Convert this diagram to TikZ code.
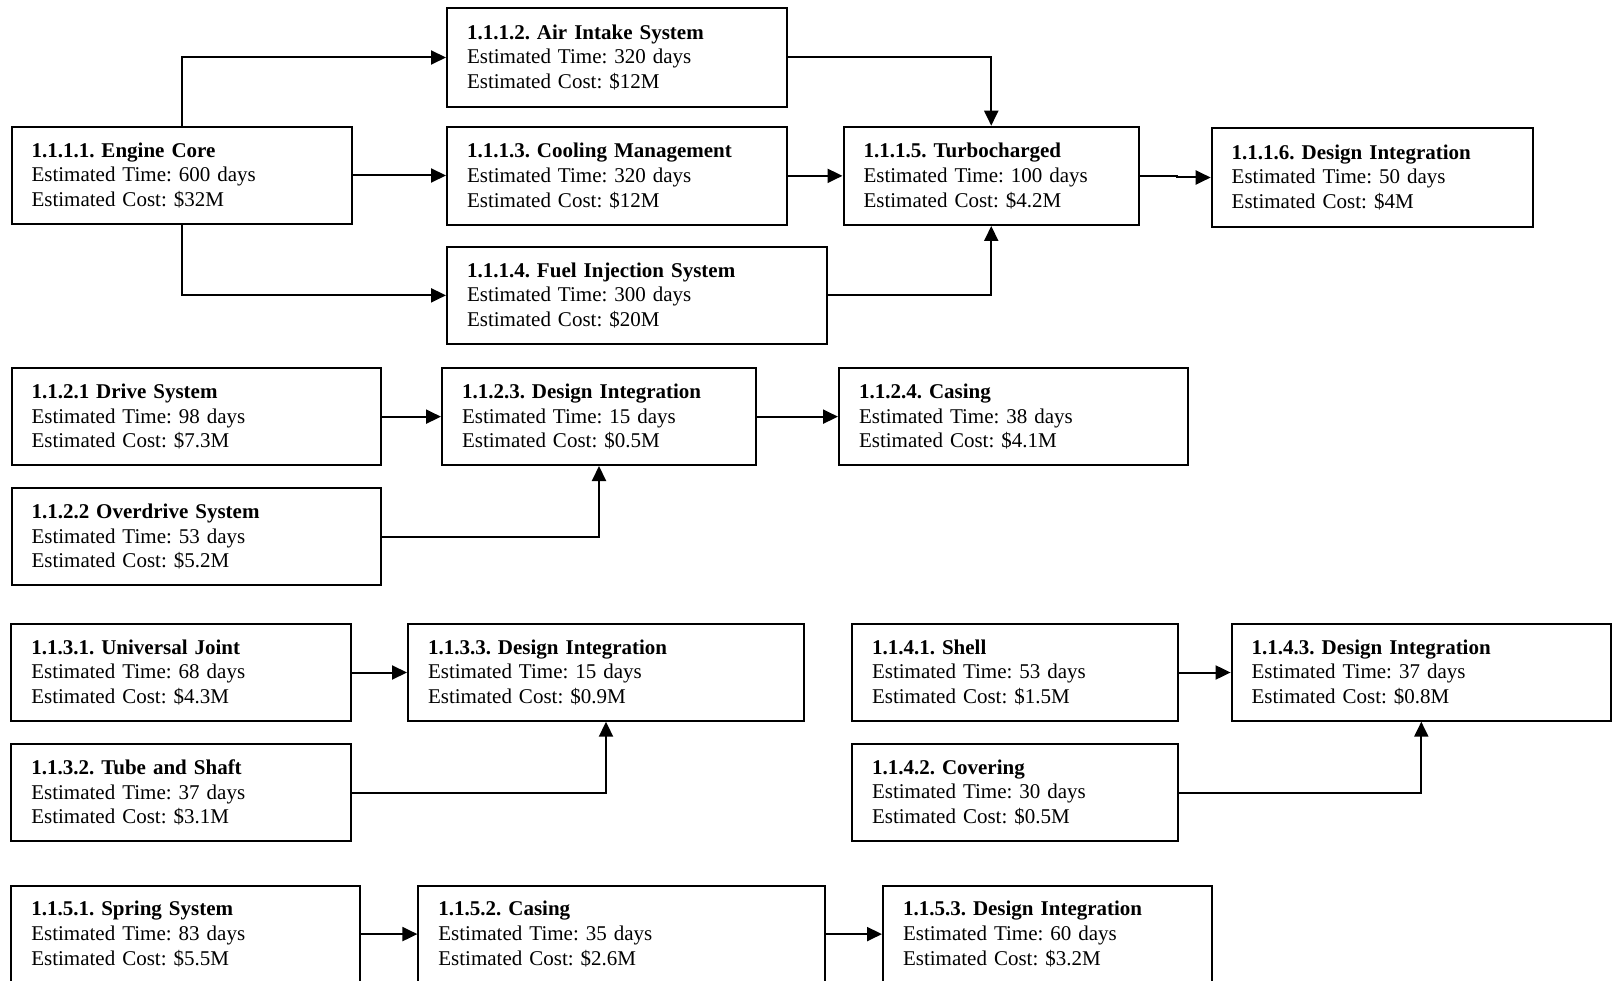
\documentclass[tikz,border=0pt]{standalone}
\usepackage{fontspec}
\setmainfont{Liberation Serif}
\usetikzlibrary{arrows.meta}

\tikzset{
  wbsbox/.style={draw, line width=2pt, rectangle, inner xsep=20pt, inner ysep=0pt,
    align=left, font={\frenchspacing\fontsize{21pt}{24.8pt}\selectfont}},
  conn/.style={line width=2pt, -{Triangle[length=15pt,width=14pt]}}
}

% A work package box given by its corners (x1,y1)-(x2,y2) in pixels, y downwards
\newcommand{\wbsnode}[8]{%
  \pgfmathsetmacro{\wbsW}{#4-#2}%
  \pgfmathsetmacro{\wbsH}{#5-#3}%
  \pgfmathsetmacro{\wbsT}{#4-#2-40}%
  \node[wbsbox, minimum width=\wbsW pt, minimum height=\wbsH pt, text width=\wbsT pt]
    (#1) at ({(#2+#4)/2},{(#3+#5)/2})
    {\textbf{#6}\\Estimated Time: #7\\Estimated Cost: \$#8};%
}

\begin{document}
\begin{tikzpicture}[x=1pt, y=-1pt]
\clip (0,0) rectangle (1612,981);
\useasboundingbox (0,0) rectangle (1612,981);
\fill[white] (0,0) rectangle (1612,981);

% 1.1.1 Engine
\wbsnode{ec}{11.5}{126.7}{352}{224.3}{1.1.1.1. Engine Core}{600 days}{32M}
\wbsnode{air}{447}{8.3}{787}{106.7}{1.1.1.2. Air Intake System}{320 days}{12M}
\wbsnode{cool}{447}{126.7}{787}{225}{1.1.1.3. Cooling Management}{320 days}{12M}
\wbsnode{fuel}{447}{246.7}{827}{344}{1.1.1.4. Fuel Injection System}{300 days}{20M}
\wbsnode{turbo}{843.5}{126.7}{1139}{225}{1.1.1.5. Turbocharged}{100 days}{4.2M}
\wbsnode{dieng}{1211.7}{128.3}{1533}{226.7}{1.1.1.6. Design Integration}{50 days}{4M}

\draw[conn] (ec.north) |- (air.west);
\draw[conn] (ec.east) -- (cool.west |- ec.east);
\draw[conn] (ec.south) |- (fuel.west);
\draw[conn] (air.east) -| (turbo.north);
\draw[conn] (cool.east) -- (turbo.west |- cool.east);
\draw[conn] (fuel.east) -| (turbo.south);
\draw[conn] (turbo.east) -- ++(37,0) |- (dieng.west);

% 1.1.2 Transmission
\wbsnode{drive}{11.5}{368.3}{381}{465}{1.1.2.1 Drive System}{98 days}{7.3M}
\wbsnode{over}{11.5}{488.3}{381}{585}{1.1.2.2 Overdrive System}{53 days}{5.2M}
\wbsnode{ditr}{442}{368.3}{756}{465}{1.1.2.3. Design Integration}{15 days}{0.5M}
\wbsnode{castr}{839}{368.3}{1188}{465}{1.1.2.4. Casing}{38 days}{4.1M}

\draw[conn] (drive.east) -- (ditr.west);
\draw[conn] (over.east) -| (ditr.south);
\draw[conn] (ditr.east) -- (castr.west);

% 1.1.3 Drive shaft
\wbsnode{uj}{11.3}{624.3}{350.6}{720.7}{1.1.3.1. Universal Joint}{68 days}{4.3M}
\wbsnode{tube}{11.3}{744.3}{350.6}{840.7}{1.1.3.2. Tube and Shaft}{37 days}{3.1M}
\wbsnode{dids}{408}{624.3}{804}{720.7}{1.1.3.3. Design Integration}{15 days}{0.9M}

\draw[conn] (uj.east) -- (dids.west);
\draw[conn] (tube.east) -| (dids.south);

% 1.1.4 Body
\wbsnode{shell}{852}{624.3}{1178}{720.7}{1.1.4.1. Shell}{53 days}{1.5M}
\wbsnode{cover}{852}{744.3}{1178}{840.7}{1.1.4.2. Covering}{30 days}{0.5M}
\wbsnode{dibd}{1231.6}{624.3}{1611}{720.7}{1.1.4.3. Design Integration}{37 days}{0.8M}

\draw[conn] (shell.east) -- (dibd.west);
\draw[conn] (cover.east) -| (dibd.south);

% 1.1.5 Suspension
\wbsnode{spring}{11.3}{885.7}{360}{982.5}{1.1.5.1. Spring System}{83 days}{5.5M}
\wbsnode{cassp}{418.4}{885.7}{824.5}{982.5}{1.1.5.2. Casing}{35 days}{2.6M}
\wbsnode{disp}{883}{885.7}{1212}{982.5}{1.1.5.3. Design Integration}{60 days}{3.2M}

\draw[conn] (spring.east) -- (cassp.west);
\draw[conn] (cassp.east) -- (disp.west);
\end{tikzpicture}
\end{document}
